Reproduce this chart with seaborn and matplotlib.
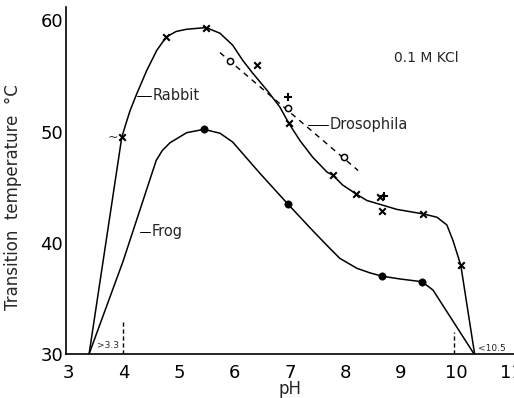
import matplotlib.pyplot as plt
import seaborn as sns
from matplotlib.ticker import MultipleLocator

rabbit_curve_ph = [3.38, 3.97, 4.05, 4.12, 4.24, 4.42, 4.60, 4.77, 4.95, 5.14,
                   5.49, 5.74, 5.97, 6.15, 6.33, 6.59, 6.82, 6.98, 7.18, 7.41,
                   7.67, 7.77, 7.95, 8.19, 8.39, 8.93, 9.40, 9.65, 9.83, 9.94,
                   10.08, 10.33]
rabbit_curve_t = [30.0, 49.5, 50.8, 51.9, 53.4, 55.5, 57.3, 58.5, 59.0, 59.2,
                  59.35, 58.84, 57.76, 56.4, 55.25, 53.7, 52.2, 50.75, 49.2, 47.7,
                  46.35, 46.1, 45.2, 44.4, 43.8, 43.0, 42.6, 42.3, 41.6, 40.2,
                  38.0, 30.0]
rabbit_ph = [3.97, 4.77, 5.49, 6.98, 7.77, 8.19, 8.62, 9.40, 10.08]
rabbit_t = [49.5, 58.5, 59.35, 50.75, 46.1, 44.4, 44.15, 42.6, 38.0]
extra_x_ph = [6.41, 8.66]
extra_x_t = [56.0, 42.85]
plus_ph = [6.96, 8.70]
plus_t = [53.1, 44.2]

# Frog: curve + filled circles
frog_curve_ph = [3.38, 3.99, 4.59, 4.70, 4.84, 5.14, 5.45, 5.74, 5.97, 6.45,
                 6.96, 7.41, 7.72, 7.90, 8.21, 8.44, 8.66, 8.98, 9.38, 9.58,
                 10.32]
frog_curve_t = [30.0, 38.3, 47.4, 48.3, 49.0, 49.9, 50.2, 49.85, 49.05, 46.3,
                43.5, 41.1, 39.5, 38.6, 37.7, 37.3, 37.0, 36.75, 36.5, 35.75,
                30.0]
frog_ph = [5.45, 6.96, 8.66, 9.38]
frog_t = [50.2, 43.5, 37.0, 36.5]

# Drosophila: dashed line + open circles
dros_line_ph = [5.74, 8.23]
dros_line_t = [57.1, 46.5]
dros_ph = [5.92, 6.96, 7.97]
dros_t = [56.3, 52.1, 47.7]

# limit marks at the base line
limit_ph = [4.0, 9.96]
limit_top = [32.9, 32.0]

sns.set_style("white")
plt.rcParams["font.family"] = ["DejaVu Sans"]

fig = plt.figure(figsize=(5.14, 3.98), dpi=100)
ax = fig.add_axes([66 / 514, 44 / 398, 448 / 514, 347 / 398])

sns.lineplot(x=rabbit_curve_ph, y=rabbit_curve_t, sort=False, estimator=None,
             color="black", linewidth=1.1, ax=ax)
sns.lineplot(x=frog_curve_ph, y=frog_curve_t, sort=False, estimator=None,
             color="black", linewidth=1.1, ax=ax)
sns.lineplot(x=dros_line_ph, y=dros_line_t, sort=False, estimator=None,
             color="black", linewidth=1.0, linestyle=(0, (4, 3.5)), ax=ax)
for x, top in zip(limit_ph, limit_top):
    ax.plot([x, x], [30, top], color="black", linewidth=1.0, linestyle=(0, (3, 2)))

sns.scatterplot(x=rabbit_ph + extra_x_ph, y=rabbit_t + extra_x_t, marker="x",
                s=22, color="black", linewidth=1.5, ax=ax, zorder=5)
sns.scatterplot(x=plus_ph, y=plus_t, marker="+", s=30, color="black",
                linewidth=1.5, ax=ax, zorder=5)
sns.scatterplot(x=frog_ph, y=frog_t, marker="o", s=28, color="black",
                edgecolor="black", ax=ax, zorder=5)
sns.scatterplot(x=dros_ph, y=dros_t, marker="o", s=20, facecolor="white",
                edgecolor="black", linewidth=1.1, ax=ax, zorder=5)

# labels with short leader lines
ax.plot([4.24, 4.50], [53.2, 53.2], color="black", linewidth=0.7)
ax.text(4.53, 53.2, "Rabbit", fontsize=10.5, va="center", ha="left")
ax.plot([4.30, 4.48], [41.0, 41.0], color="black", linewidth=0.7)
ax.text(4.51, 41.0, "Frog", fontsize=10.5, va="center", ha="left")
ax.plot([7.32, 7.68], [50.6, 50.6], color="black", linewidth=0.7)
ax.text(7.72, 50.6, "Drosophila", fontsize=10.5, va="center", ha="left")
ax.text(8.87, 56.6, "0.1 M KCl", fontsize=10, va="center", ha="left")
ax.text(3.81, 49.5, "~", fontsize=9, va="center", ha="center")
ax.text(3.52, 30.75, ">3.3", fontsize=6.5, va="center", ha="left")
ax.text(10.39, 30.5, "<10.5", fontsize=6.5, va="center", ha="left")

ax.set_xlim(2.964, 11.04)
ax.set_ylim(30, 61.2)
ax.set_xticks(range(3, 12))
ax.set_yticks([30, 40, 50, 60])
ax.yaxis.set_minor_locator(MultipleLocator(5))
ax.tick_params(axis="both", which="major", direction="in", length=4, width=1,
               labelsize=13, colors="black")
ax.tick_params(axis="y", which="minor", direction="in", length=3, width=1)
ax.tick_params(axis="x", pad=7)
ax.tick_params(axis="y", pad=2)

ax.set_xlabel("pH", fontsize=12, labelpad=-1)
ax.set_ylabel("Transition  temperature  °C", fontsize=12)
ax.yaxis.set_label_coords(-0.098, 0.452)

for side in ["top", "right"]:
    ax.spines[side].set_visible(False)
for side in ["left", "bottom"]:
    ax.spines[side].set_color("black")
    ax.spines[side].set_linewidth(1.2)

fig.savefig("out.png", dpi=100)
plt.close(fig)
